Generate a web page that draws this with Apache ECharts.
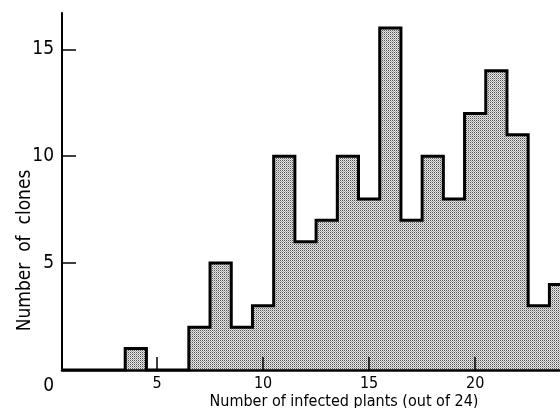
<!DOCTYPE html>
<html>
<head>
<meta charset="utf-8">
<script src="https://cdn.jsdelivr.net/npm/echarts@6/dist/echarts.min.js"></script>
<style>
  html, body { margin: 0; padding: 0; background: #fff; }
  #chart { width: 560px; height: 408px; }
</style>
</head>
<body>
<div id="chart"></div>
<script>
// number of infected plants (bin centre) and number of clones in each bin
const plants = [1, 2, 3, 4, 5, 6, 7, 8, 9, 10, 11, 12, 13, 14, 15, 16, 17, 18, 19, 20, 21, 22, 23, 24];
const clones = [0, 0, 0, 1, 0, 0, 2, 5, 2, 3, 10, 6, 7, 10, 8, 16, 7, 10, 8, 12, 14, 11, 3, 4];
const xTicks = [5, 10, 15, 20];
const yTicks = [0, 5, 10, 15];

const FONT = '"Liberation Sans Narrow", "DejaVu Sans Condensed", sans-serif';

// stippled grey fill like the printed histogram
const makeStipple = () => {
  const c = document.createElement('canvas');
  c.width = 2;
  c.height = 2;
  const ctx = c.getContext('2d');
  ctx.fillStyle = '#e4e4e4'; ctx.fillRect(0, 0, 2, 2);
  ctx.fillStyle = '#555555'; ctx.fillRect(0, 0, 1, 1);
  ctx.fillStyle = '#a8a8a8'; ctx.fillRect(1, 1, 1, 1);
  return c;
};

// outline of the histogram: each bin spans centre +/- 0.5
const outline = [];
plants.forEach((p, i) => {
  outline.push([p - 0.5, clones[i]]);
  outline.push([p + 0.5, clones[i]]);
});

const chart = echarts.init(document.getElementById('chart'));
chart.setOption({
  animation: false,
  grid: { left: 62, right: 0, top: 13, bottom: 38, outerBoundsMode: 'none' },
  xAxis: {
    type: 'value',
    min: 0.52,
    max: 24,
    z: 3,
    splitLine: { show: false },
    axisLine: { lineStyle: { color: '#000', width: 2.5 } },
    axisTick: { inside: true, length: 13, customValues: xTicks, lineStyle: { color: '#000', width: 1.5 } },
    axisLabel: { customValues: xTicks, margin: 6, color: '#000', fontSize: 16, fontFamily: FONT },
    name: 'Number of infected plants (out of 24)',
    nameLocation: 'middle',
    nameGap: 24,
    nameMoveOverlap: false,
    nameTextStyle: { color: '#000', fontSize: 16, fontFamily: FONT, padding: [0, 0, 0, 66] }
  },
  yAxis: {
    type: 'value',
    min: 0,
    max: 16.7,
    z: 3,
    splitLine: { show: false },
    axisLine: { show: true, lineStyle: { color: '#000', width: 2 } },
    axisTick: { show: true, inside: true, length: 14, customValues: [5, 10, 15], lineStyle: { color: '#000', width: 1.5 } },
    axisLabel: {
      customValues: yTicks,
      margin: 8,
      color: '#000',
      fontSize: 19,
      fontFamily: FONT,
      formatter: v => v === 0 ? '{o|0}' : String(v),
      rich: { o: { fontSize: 19, fontFamily: FONT, color: '#000', padding: [32, 0, 0, 0] } }
    },
    name: 'Number  of  clones',
    nameLocation: 'middle',
    nameGap: 27,
    nameMoveOverlap: false,
    nameTextStyle: { color: '#000', fontSize: 19, fontFamily: FONT, padding: [0, 118, 0, 0] }
  },
  series: [{
    type: 'line',
    data: outline,
    symbol: 'none',
    clip: true,
    lineStyle: { color: '#000', width: 3, join: 'miter' },
    areaStyle: { color: { image: makeStipple(), repeat: 'repeat' }, opacity: 1 }
  }]
});
</script>
</body>
</html>
